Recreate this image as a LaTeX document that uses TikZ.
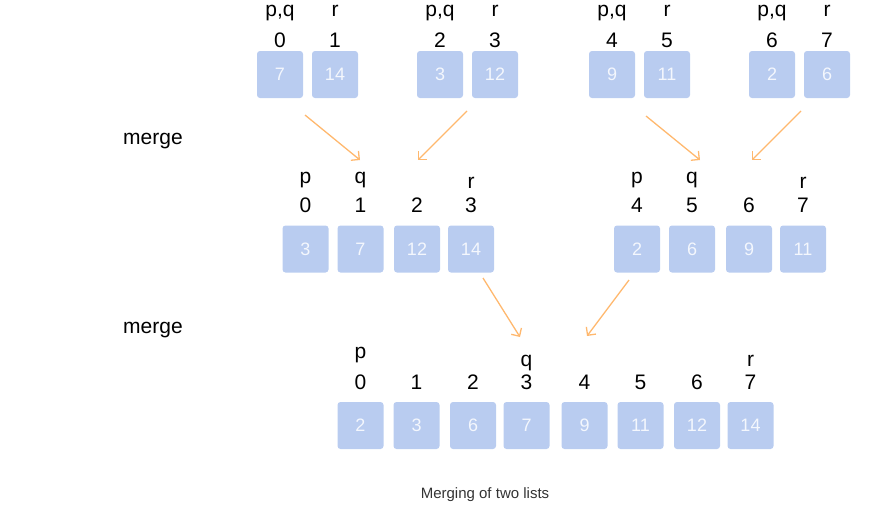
\documentclass[tikz,border=0pt]{standalone}
\usepackage{fontspec}
\setmainfont{Liberation Sans}
\usetikzlibrary{arrows.meta}

\definecolor{cellfill}{RGB}{185,204,240}
\definecolor{cellnum}{RGB}{244,247,253}
\definecolor{mergearrow}{RGB}{255,184,110}
\definecolor{captiongray}{RGB}{51,51,51}

\tikzset{
  cell/.style={fill=cellfill, rounded corners=3pt, minimum width=46pt,
    minimum height=47pt, inner sep=0pt, text=cellnum,
    font=\fontsize{18}{21}\selectfont},
  lbl/.style={anchor=base, inner sep=0pt, font=\fontsize{21}{25}\selectfont},
  caption/.style={anchor=base, inner sep=0pt, text=captiongray,
    font=\fontsize{15}{18}\selectfont},
  mergeflow/.style={draw=mergearrow, line width=1.3pt,
    -{Straight Barb[length=6pt,width=12pt]}},
}

\begin{document}
\begin{tikzpicture}[x=1pt,y=-1pt]
\useasboundingbox (0,0) rectangle (875,523);

% level 1: eight one-element runs, paired
\foreach \x/\v [count=\i from 0] in {280/7,335/14,440/3,495/12,612/9,667/11,772/2,827/6} {
  \node[cell] (a\i) at (\x,74.5) {\v};
  \node[lbl] (ai\i) at (\x,47) {\i};
}
\foreach \x [count=\k] in {280,440,612,772} {
  \node[lbl] (apq\k) at (\x,16) {p,q};
}
\foreach \x [count=\k] in {335,495,667,827} {
  \node[lbl] (ar\k) at (\x,16) {r};
}

% level 2: two sorted runs of four
\foreach \x/\v [count=\i from 0] in {305.5/3,360.5/7,417/12,471/14,637/2,692/6,749/9,803/11} {
  \node[cell] (b\i) at (\x,249) {\v};
  \node[lbl] (bi\i) at (\x,212) {\i};
}
\node[lbl] (bp1) at (305.5,183) {p};
\node[lbl] (bq1) at (360.5,183) {q};
\node[lbl] (br1) at (471,188) {r};
\node[lbl] (bp2) at (637,183) {p};
\node[lbl] (bq2) at (692,183) {q};
\node[lbl] (br2) at (803,188) {r};

% level 3: the fully merged list
\foreach \x/\v [count=\i from 0] in {360.5/2,416.5/3,473/6,526.5/7,584.5/9,640.5/11,697/12,750.5/14} {
  \node[cell] (c\i) at (\x,425.5) {\v};
  \node[lbl] (ci\i) at (\x,389) {\i};
}
\node[lbl] (cp) at (360.5,358) {p};
\node[lbl] (cq) at (526.5,366) {q};
\node[lbl] (cr) at (750.5,366) {r};

% side labels and caption
\node[lbl, anchor=base west] (m1) at (123,144) {merge};
\node[lbl, anchor=base west] (m2) at (123,333) {merge};
\node[caption] (cap) at (485,498) {Merging of two lists};

% merge arrows
\coordinate (s1) at (305,115);  \coordinate (e1) at (360,160);
\coordinate (s2) at (467,111);  \coordinate (e2) at (418,160);
\coordinate (s3) at (646,116);  \coordinate (e3) at (700,160);
\coordinate (s4) at (801,111);  \coordinate (e4) at (752,160);
\coordinate (s5) at (483,278);  \coordinate (e5) at (520,337);
\coordinate (s6) at (629,280);  \coordinate (e6) at (587,336);
\foreach \k in {1,...,6} {
  \draw[mergeflow] (s\k) -- (e\k);
}
\end{tikzpicture}
\end{document}
